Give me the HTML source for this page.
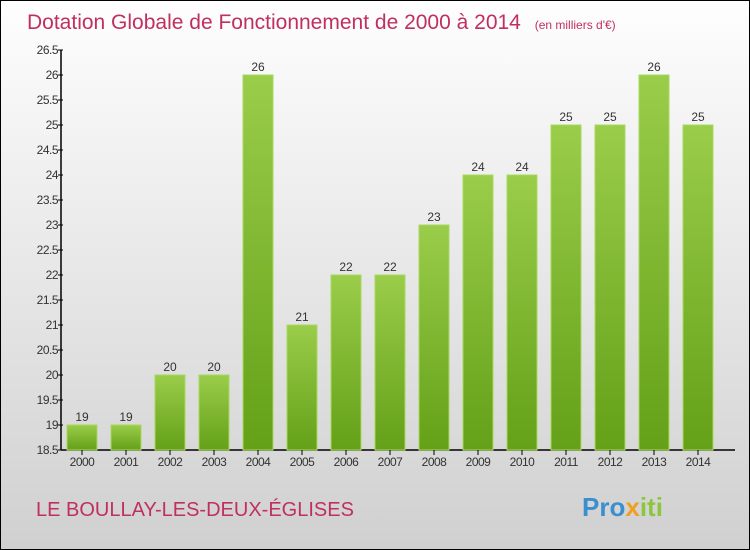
<!DOCTYPE html>
<html><head><meta charset="utf-8"><style>
body{margin:0}
#c{width:750px;height:550px;position:relative;box-sizing:border-box;border:1px solid #000;background:linear-gradient(#fefefe,#d0d0d0);font-family:"Liberation Sans",sans-serif;overflow:hidden}
</style></head><body>
<div id="c">
<svg width="750" height="550" style="position:absolute;left:-1px;top:-1px" id="s">
<defs><linearGradient id="g" x1="0" y1="0" x2="0" y2="1"><stop offset="0" stop-color="#9acd4a"/><stop offset="1" stop-color="#64a018"/></linearGradient></defs>
<text x="27" y="29" font-size="21" fill="#c0305e">Dotation Globale de Fonctionnement de 2000 à 2014 <tspan font-size="12" dx="8">(en milliers d'€)</tspan></text>
<text x="36" y="516" font-size="20" fill="#c0305e">LE BOULLAY-LES-DEUX-ÉGLISES</text>
<text x="582" y="516" font-size="26" font-weight="bold" fill="#3a8fd0">Pro<tspan fill="#f0a020">x</tspan><tspan fill="#8cc63e">iti</tspan></text>
</svg>
</div>
<script>
const years=["2000","2001","2002","2003","2004","2005","2006","2007","2008","2009","2010","2011","2012","2013","2014"];
const values=[19,19,20,20,26,21,22,22,23,24,24,25,25,26,25];
const ticks=[18.5,19,19.5,20,20.5,21,21.5,22,22.5,23,23.5,24,24.5,25,25.5,26,26.5];
const NS="http://www.w3.org/2000/svg",s=document.getElementById('s');
const y=v=>450-(v-18.5)*50, x=i=>82+i*44;
function mk(t,a,txt){const e=document.createElementNS(NS,t);for(const k in a)e.setAttribute(k,a[k]);if(txt!=null)e.textContent=txt;s.appendChild(e);return e;}
let ax=mk('line',{x1:61,y1:y(26.5),x2:61,y2:450,stroke:'#000','stroke-width':1.5});


let bx=mk('line',{x1:61,y1:450,x2:735,y2:450,stroke:'#000','stroke-width':1.5});


ticks.forEach(t=>{
 let l=mk('line',{x1:58,x2:63,y1:y(t),y2:y(t),stroke:'#000'});
 
 
 let tx=mk('text',{x:58,y:y(t)+4,'text-anchor':'end','font-size':12,fill:'#333','letter-spacing':'-0.5'},String(t));
 
 
});
years.forEach((yr,i)=>{
 let b=mk('rect',{x:x(i)-15,y:y(values[i]),width:30,height:450-y(values[i]),fill:'url(#g)',stroke:'#a8d860','stroke-width':1});
 
 
 let v=mk('text',{x:x(i),y:y(values[i])-4,'text-anchor':'middle','font-size':12,fill:'#333'},String(values[i]));
 
 
 let l=mk('line',{x1:x(i),x2:x(i),y1:450,y2:455,stroke:'#000'});
 
 
 let t=mk('text',{x:x(i),y:466,'text-anchor':'middle','font-size':12,fill:'#333','letter-spacing':'-0.5'},yr);
 
 
});
</script>
</body></html>
